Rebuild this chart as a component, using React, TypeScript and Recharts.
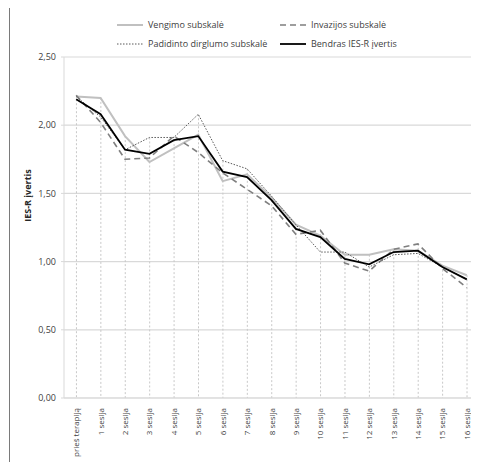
import React from 'react';
import { ComposedChart, Line, Bar, XAxis, YAxis, CartesianGrid } from 'recharts';

const categories = ['prieš terapiją', '1 sesija', '2 sesija', '3 sesija', '4 sesija', '5 sesija', '6 sesija', '7 sesija', '8 sesija', '9 sesija', '10 sesija', '11 sesija', '12 sesija', '13 sesija', '14 sesija', '15 sesija', '16 sesija'];
const vengimo = [2.21, 2.20, 1.92, 1.73, 1.83, 1.93, 1.59, 1.64, 1.47, 1.27, 1.19, 1.05, 1.05, 1.09, 1.08, 0.97, 0.90];
const invazijos = [2.22, 2.02, 1.75, 1.76, 1.92, 1.80, 1.65, 1.53, 1.41, 1.20, 1.23, 0.99, 0.93, 1.09, 1.13, 0.95, 0.81];
const padidinto = [2.21, 2.06, 1.82, 1.91, 1.91, 2.08, 1.74, 1.68, 1.48, 1.27, 1.07, 1.07, 0.96, 1.05, 1.06, 0.96, 0.87];
const bendras = [2.19, 2.08, 1.82, 1.79, 1.89, 1.92, 1.66, 1.62, 1.45, 1.24, 1.18, 1.02, 0.98, 1.07, 1.08, 0.96, 0.87];
const yTicks = [0, 0.5, 1, 1.5, 2, 2.5];

const seriesNames = ['Vengimo subskalė', 'Invazijos subskalė', 'Padidinto dirglumo subskalė', 'Bendras IES-R įvertis'];

const data = categories.map((c, i) => ({
  cat: c,
  vengimo: vengimo[i],
  invazijos: invazijos[i],
  padidinto: padidinto[i],
  bendras: bendras[i],
  drop: Math.max(vengimo[i], invazijos[i], padidinto[i], bendras[i]),
}));

const FONT = '"Open Sans", "Noto Sans", sans-serif';

const styles = [
  { key: 'vengimo', stroke: '#C0C0C0', width: 2, dash: undefined as string | undefined },
  { key: 'invazijos', stroke: '#7F7F7F', width: 1.6, dash: '6 4' },
  { key: 'padidinto', stroke: '#595959', width: 1, dash: '1.5 1.5' },
  { key: 'bendras', stroke: '#000000', width: 1.8, dash: undefined },
];

const DropLine = (props: any) => {
  const { x, y, width, height } = props;
  const cx = x + width / 2;
  return <line x1={cx} x2={cx} y1={y} y2={y + height} stroke="#C8C8C8" strokeWidth={1} strokeDasharray="2 2" />;
};

const XTick = (props: any) => {
  const { x, y, payload } = props;
  return (
    <g transform={`translate(${x},${y + 8})`}>
      <text transform="rotate(-90)" textAnchor="end" dy={3} fontSize={8} fill="#404040" fontFamily={FONT}>
        {payload.value}
      </text>
    </g>
  );
};

const LegendItem = ({ idx, left, top }: { idx: number; left: number; top: number }) => {
  const s = styles[idx];
  return (
    <div style={{ position: 'absolute', left, top, display: 'flex', alignItems: 'center', fontFamily: FONT, fontSize: 9, color: '#404040', whiteSpace: 'nowrap', lineHeight: '12px' }}>
      <svg width={28} height={6} style={{ marginRight: 3 }}>
        <line x1={0} x2={26} y1={3} y2={3} stroke={s.stroke} strokeWidth={s.width} strokeDasharray={s.dash} />
      </svg>
      <span>{seriesNames[idx]}</span>
    </div>
  );
};

export default function App() {
  return (
    <div style={{ position: 'relative', width: 471, height: 454 }}>
      <div style={{ position: 'absolute', left: 1, top: -3, width: 469, height: 456, borderLeft: '1px solid #7A7A7A', borderTop: '1px solid #7A7A7A' }} />
      <LegendItem idx={0} left={109} top={11} />
      <LegendItem idx={1} left={272} top={11} />
      <LegendItem idx={2} left={109} top={30} />
      <LegendItem idx={3} left={272} top={30} />
      <ComposedChart width={471} height={454} data={data} margin={{ top: 49, right: 0, left: 0, bottom: 0 }}>
        <CartesianGrid vertical={false} stroke="#D9D9D9" strokeWidth={1.2} />
        <XAxis dataKey="cat" interval={0} tickLine={false} tickSize={0} tick={<XTick />} axisLine={{ stroke: '#D9D9D9' }} height={64} />
        <YAxis
          width={56}
          domain={[0, 2.5]}
          ticks={yTicks}
          tickSize={3}
          tickMargin={5}
          tickLine={{ stroke: '#D9D9D9' }}
          axisLine={{ stroke: '#D9D9D9' }}
          tick={{ fontSize: 9, fill: '#404040', fontFamily: FONT }}
          tickFormatter={(v: number) => v.toFixed(2).replace('.', ',')}
          label={{
            content: (p: any) => {
              const vb = p.viewBox;
              const cx = vb.x + 19;
              const cy = vb.y + vb.height / 2 - 32;
              return (
                <text x={cx} y={cy} transform={`rotate(-90, ${cx}, ${cy})`} textAnchor="middle" dominantBaseline="central" fontSize={9} fontWeight="bold" fill="#262626" fontFamily={FONT}>
                  IES-R įvertis
                </text>
              );
            },
          }}
        />
        <Bar dataKey="drop" shape={<DropLine />} isAnimationActive={false} />
        {styles.map((s, i) => (
          <Line
            key={s.key}
            type="linear"
            dataKey={s.key}
            name={seriesNames[i]}
            stroke={s.stroke}
            strokeWidth={s.width}
            strokeDasharray={s.dash}
            dot={false}
            activeDot={false}
            isAnimationActive={false}
          />
        ))}
      </ComposedChart>
    </div>
  );
}
